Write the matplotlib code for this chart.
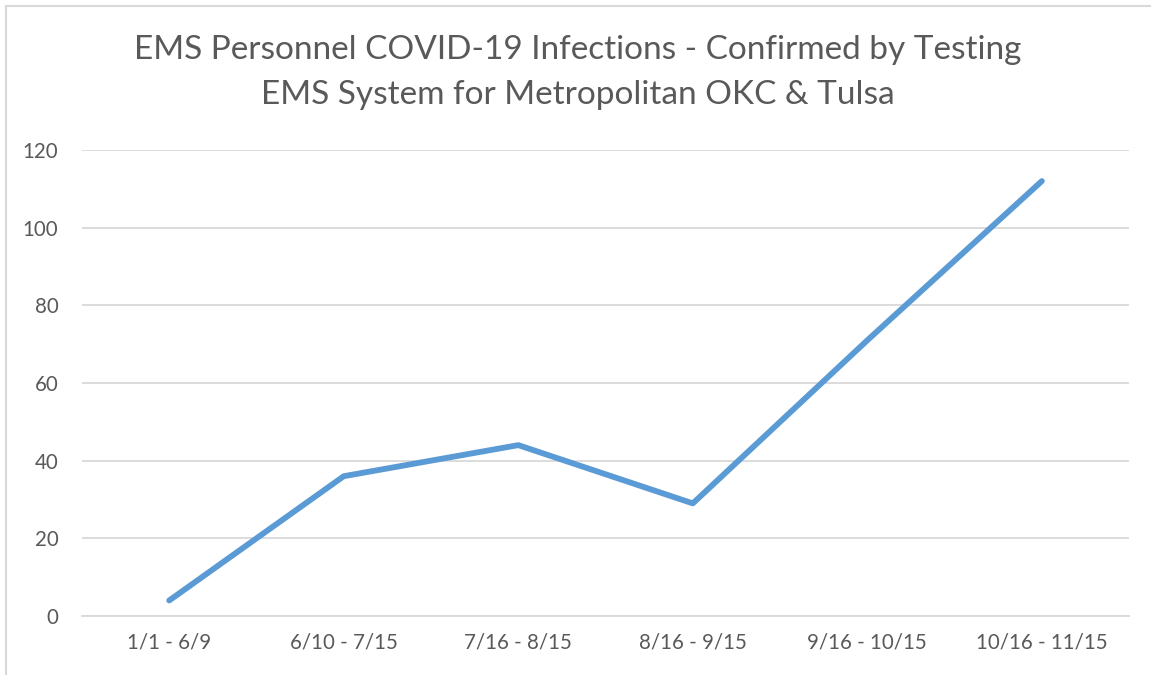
import matplotlib.pyplot as plt
from matplotlib.lines import Line2D

# 数据
periods = ['1/1 - 6/9', '6/10 - 7/15', '7/16 - 8/15', '8/16 - 9/15',
           '9/16 - 10/15', '10/16 - 11/15']
infections = [4, 36, 44, 29, 71, 112]

title_lines = ['EMS Personnel COVID-19 Infections - Confirmed by Testing',
               'EMS System for Metropolitan OKC & Tulsa']

text_color = '#595959'
grid_color = '#d9d9d9'
line_color = '#5b9bd5'

plt.rcParams['font.family'] = ['Lato', 'DejaVu Sans']

fig = plt.figure(figsize=(11.51, 6.75), dpi=100)
ax = fig.add_axes([0.0712, 0.0874, 0.9098, 0.6904])

x = list(range(len(periods)))
ax.plot(x, infections, color=line_color, linewidth=4.2,
        solid_capstyle='round', solid_joinstyle='round')

ax.set_xlim(-0.5, len(periods) - 0.5)
ax.set_ylim(0, 120)
ax.set_yticks(range(0, 121, 20))
ax.set_xticks(x)
ax.set_xticklabels(periods)

ax.grid(axis='y', color=grid_color, linewidth=1.3)
ax.set_axisbelow(True)
for side in ['top', 'right', 'left']:
    ax.spines[side].set_visible(False)
ax.spines['bottom'].set_color(grid_color)
ax.spines['bottom'].set_linewidth(1.3)

ax.tick_params(axis='both', length=0, labelsize=14.8, labelcolor=text_color)
ax.tick_params(axis='y', pad=17)
ax.tick_params(axis='x', pad=12)

# 标题
fig.text(0.502, 0.926, title_lines[0], ha='center', va='center',
         fontsize=24, color=text_color)
fig.text(0.502, 0.859, title_lines[1], ha='center', va='center',
         fontsize=24, color=text_color)

# 图表外框（上、左）
fig.add_artist(Line2D([0.005, 1.0], [0.9915, 0.9915], transform=fig.transFigure,
                      color=grid_color, linewidth=1.5))
fig.add_artist(Line2D([0.005, 0.005], [0.0, 0.9915], transform=fig.transFigure,
                      color=grid_color, linewidth=1.5))

fig.savefig('out.png', dpi=100)
